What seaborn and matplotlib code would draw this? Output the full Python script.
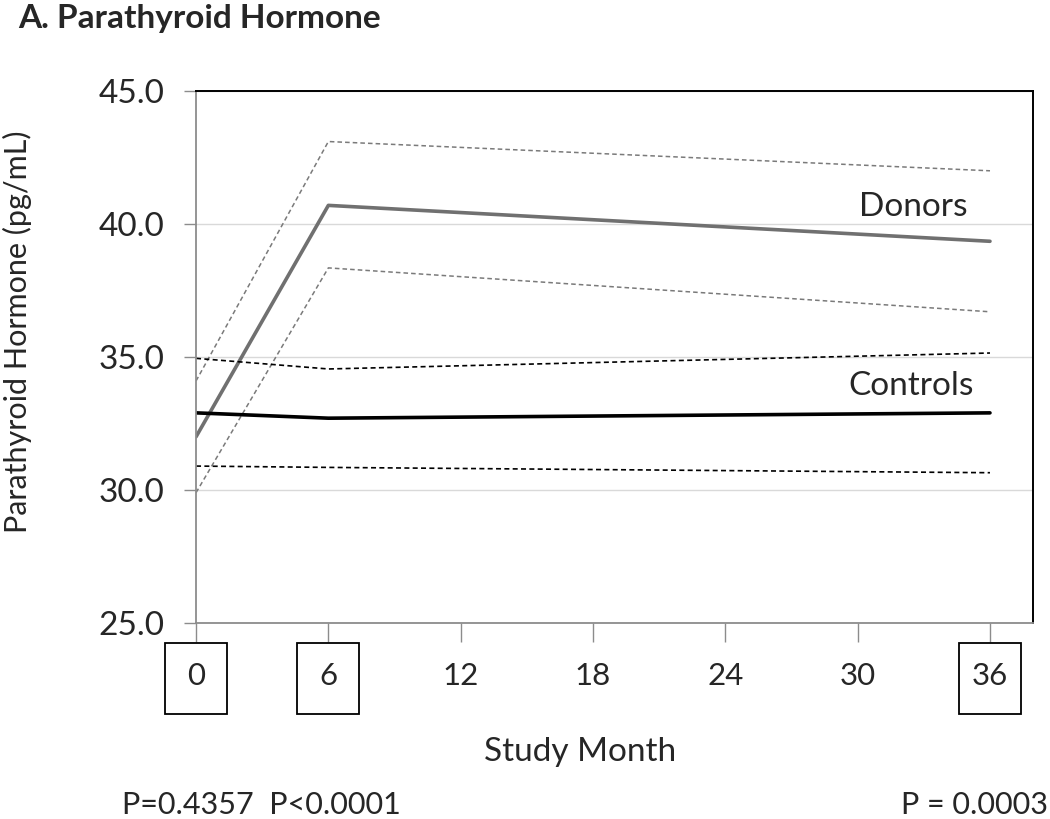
import numpy as np
import pandas as pd
import matplotlib
matplotlib.use("Agg")
import matplotlib.pyplot as plt
from matplotlib.patches import Rectangle
import matplotlib.transforms as mtransforms
import seaborn as sns

# dados
meses = [0, 6, 36]
doadores_media = [32.0, 40.7, 39.35]
doadores_sup = [34.1, 43.1, 42.0]
doadores_inf = [29.9, 38.35, 36.7]
controles_media = [32.9, 32.7, 32.9]
controles_sup = [34.95, 34.55, 35.15]
controles_inf = [30.9, 30.85, 30.65]

ticks_x = [0, 6, 12, 18, 24, 30, 36]
ticks_y = [25.0, 30.0, 35.0, 40.0, 45.0]
meses_marcados = [0, 6, 36]

sns.set_style("white")
plt.rcParams["font.family"] = ["Lato", "DejaVu Sans"]

df = pd.DataFrame({
    "mes": meses * 6,
    "valor": doadores_media + doadores_sup + doadores_inf
             + controles_media + controles_sup + controles_inf,
    "serie": (["d_media"] * 3 + ["d_sup"] * 3 + ["d_inf"] * 3
              + ["c_media"] * 3 + ["c_sup"] * 3 + ["c_inf"] * 3),
})

estilos = {
    "d_media": dict(color="#707070", lw=2.6, ls="-"),
    "d_sup": dict(color="#7a7a7a", lw=1.1, ls=(0, (3, 2))),
    "d_inf": dict(color="#7a7a7a", lw=1.1, ls=(0, (3, 2))),
    "c_media": dict(color="black", lw=2.6, ls="-"),
    "c_sup": dict(color="black", lw=1.2, ls=(0, (3, 2))),
    "c_inf": dict(color="black", lw=1.2, ls=(0, (3, 2))),
}

fig = plt.figure(figsize=(10.5, 8.19), dpi=100)
ax = fig.add_axes([0.1867, 0.2393, 0.7971, 0.6496])

for nome, st in estilos.items():
    sub = df[df["serie"] == nome]
    sns.lineplot(data=sub, x="mes", y="valor", ax=ax, color=st["color"],
                 linewidth=st["lw"], linestyle=st["ls"], legend=False)

ax.set_xlim(0, 37.95)
ax.set_ylim(25, 45)
ax.set_xticks(ticks_x)
ax.set_xticklabels([str(t) for t in ticks_x])
ax.set_yticks(ticks_y)
ax.set_yticklabels([f"{t:.1f}" for t in ticks_y])
ax.yaxis.grid(True, color="#d9d9d9", lw=1)
ax.xaxis.grid(False)
ax.set_axisbelow(True)

for s in ["left", "bottom"]:
    ax.spines[s].set_color("#8c8c8c")
    ax.spines[s].set_linewidth(1.3)
for s in ["top", "right"]:
    ax.spines[s].set_color("black")
    ax.spines[s].set_linewidth(1.4)

ax.tick_params(axis="y", direction="out", length=9, width=1, color="#8c8c8c",
               labelsize=24, pad=14, left=True)
ax.tick_params(axis="x", direction="out", length=14, width=1, color="#8c8c8c",
               labelsize=22.5, pad=14, bottom=True)

ax.set_ylabel("Parathyroid Hormone (pg/mL)", fontsize=22)
ax.yaxis.set_label_coords(-0.196, 0.547)
ax.set_xlabel("Study Month", fontsize=24)
ax.xaxis.set_label_coords(0.459, -0.214)

# caixas nos meses com p-valor
trans = mtransforms.blended_transform_factory(ax.transData, ax.transAxes)
largura = 2.8
for m in meses_marcados:
    ax.add_patch(Rectangle((m - largura / 2, -0.171), largura, 0.133,
                           transform=trans, fill=False, ec="black", lw=1.3,
                           clip_on=False))

ax.text(32.5, 40.65, "Donors", fontsize=24, ha="center", va="center")
ax.text(32.4, 33.9, "Controls", fontsize=24, ha="center", va="center")

fig.text(0.017, 0.978, "A. Parathyroid Hormone", fontsize=24, fontweight="bold",
         ha="left", va="center")
fig.text(0.116, 0.017, "P=0.4357  P<0.0001", fontsize=22, ha="left", va="center")
fig.text(0.998, 0.017, "P = 0.0003", fontsize=22, ha="right", va="center")

fig.savefig("out.png", dpi=100)
